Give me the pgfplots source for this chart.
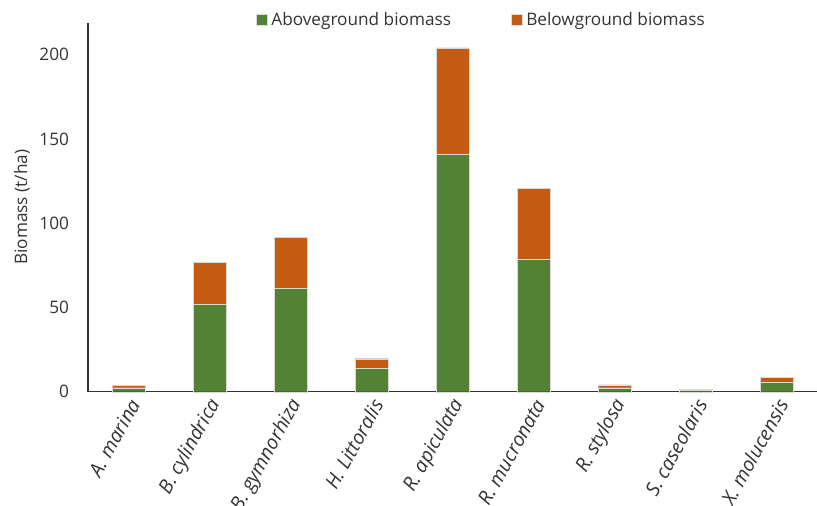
\documentclass[border=0pt]{standalone}
\usepackage{fontspec}
\setmainfont{Open Sans}
\usepackage{pgfplots}
\pgfplotsset{compat=1.18}

\definecolor{aboveg}{RGB}{84,130,53}
\definecolor{belowg}{RGB}{197,90,17}

\begin{document}
\begin{tikzpicture}
\useasboundingbox (-44pt,-57.15pt) rectangle (364.5pt,195.85pt);
\begin{axis}[
    at={(0,0)}, anchor=south west,
    scale only axis,
    width=364.5pt, height=184.5pt,
    ybar stacked,
    bar width=16.5pt,
    xmin=-0.5, xmax=8.5,
    ymin=0, ymax=219,
    axis x line*=bottom,
    axis y line*=left,
    axis line style={black!80, line width=0.7pt},
    every outer x axis line/.append style={-},
    every outer y axis line/.append style={-},
    major tick length=0pt,
    ytick={0,50,100,150,200},
    xtick=data,
    xticklabels={A. marina, B. cylindrica, B. gymnorhiza, H. Littoralis, R. apiculata, R. mucronata, R. stylosa, S. caseolaris, X. molucensis},
    xticklabel style={rotate=61, anchor=east, font=\fontsize{9.8}{11}\selectfont\itshape, text=black!80, yshift=-5pt, xshift=1pt},
    yticklabel style={font=\fontsize{8.6}{10}\selectfont, text=black!80, xshift=-6pt},
    /pgf/number format/assume math mode=true,
    ylabel={Biomass (t/ha)},
    ylabel style={at={(axis description cs:-0.0905,0.5)}, anchor=center, font=\fontsize{8.6}{10}\selectfont, text=black!80},
    legend columns=2,
    legend style={at={(0.541,1.007)}, anchor=center, draw=none, fill=none,
        font=\fontsize{8.6}{10}\selectfont, text=black!80,
        /tikz/every even column/.append style={column sep=28pt}},
    legend image code/.code={\fill[#1] (0pt,-2.75pt) rectangle (5.5pt,2.75pt);},
    clip=false,
]
\addplot[fill=aboveg, draw=white!85!black, line width=0.15pt] coordinates {
    (0,2.4) (1,52.1) (2,61.4) (3,14.1) (4,141.0) (5,78.4) (6,2.4) (7,0.8) (8,5.9)};
\addlegendentry{Aboveground biomass}
\addplot[fill=belowg, draw=white!85!black, line width=0.15pt] coordinates {
    (0,1.2) (1,24.8) (2,30.3) (3,5.5) (4,63.0) (5,42.4) (6,1.6) (7,0.6) (8,2.8)};
\addlegendentry{Belowground biomass}
\end{axis}
\end{tikzpicture}
\end{document}
